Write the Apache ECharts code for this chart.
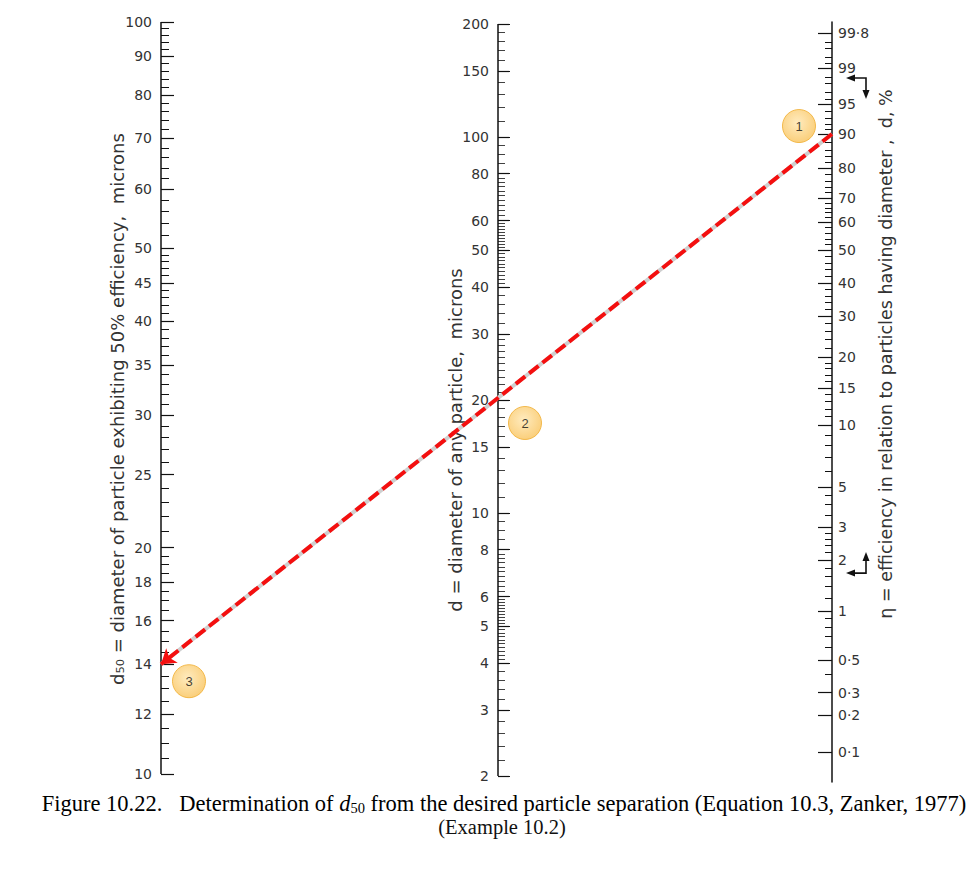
<!DOCTYPE html>
<html><head><meta charset="utf-8">
<script src="https://cdn.jsdelivr.net/npm/echarts@6/dist/echarts.min.js"></script>
<style>html,body{margin:0;padding:0;background:#fff}#c{width:976px;height:871px}</style>
</head><body><div id="c"></div>
<script>
// ---------- DATA ----------
// Left scale: d50, microns (log scale)
const d50Labels = [10,12,14,16,18,20,25,30,35,40,45,50,60,70,80,90,100];
const d50Minor = [10.5,11,11.5,12.5,13,13.5,14.5,15,15.5,16.5,17,17.5,18.5,19,19.5,
  21,22,23,24,26,27,28,29,31,32,33,34,36,37,38,39,41,42,43,44,46,47,48,49,
  52,54,56,58,62,64,66,68,72,74,76,78,82,84,86,88,92,94,96,98];
// Middle scale: d, microns (log scale)
const dLabels = [2,3,4,5,6,8,10,15,20,30,40,50,60,80,100,150,200];
const dMinor = [2.2,2.4,2.6,2.8,3.2,3.4,3.6,3.8,4.1,4.2,4.3,4.4,4.5,4.6,4.7,4.8,4.9,
  5.1,5.2,5.3,5.4,5.5,5.6,5.7,5.8,5.9,6.2,6.4,6.6,6.8,7,7.2,7.4,7.6,7.8,8.5,9,9.5,
  11,12,13,14,16,17,18,19,21,22,23,24,25,26,27,28,29,32,34,36,38,
  41,42,43,44,45,46,47,48,49,51,52,53,54,55,56,57,58,59,62,64,66,68,70,72,74,76,78,
  85,90,95,110,120,130,140,160,170,180,190];
const etaLabels = [0.1,0.2,0.3,0.5,1,2,3,5,10,15,20,30,40,50,60,70,80,90,95,99,99.8];
const etaRatio  = [0.213,0.239,0.256,0.283,0.329,0.385,0.426,0.482,0.583,0.654,0.719,0.816,0.903,1.0,1.090,1.174,1.287,1.429,1.568,1.751,1.950];
const etaMinor = [0.4,0.6,0.7,0.8,0.9,1.2,1.4,1.6,1.8,2.2,2.4,2.6,2.8,3.5,4,4.5,6,7,8,9,
  11,12,13,14,16,17,18,19,22,24,26,28,32,34,36,38,42,44,46,48,52,54,56,58,
  62,64,66,68,72,74,76,78,82,84,86,88,91,92,93,94,96,97,98,98.5,99.2,99.4,99.6,99.7];
// Worked example
const etaSelected = 90;   // step 1
const dSelected = 20;     // step 2
const badgeTexts = ['1','2','3'];

// ---------- LAYOUT ----------
const LEFT_X = 161, MID_X = 498, RIGHT_X = 832;
const GRID_TOP = 22, GRID_H = 760;
const L_MAX = 2, L_MIN = L_MAX - GRID_H / 752;
const M_MAX = Math.log10(200) + 2 / 376, M_MIN = M_MAX - GRID_H / 376;
const R_MAX = (250 - GRID_TOP) / 748, R_MIN = R_MAX - GRID_H / 748;
const MID_FRAC = (MID_X - LEFT_X) / (RIGHT_X - LEFT_X);
const TXT = '#333', AX = '#111';
const FONT = 'DejaVu Sans';

const lg = Math.log10;
const logit = p => Math.log10(p / (100 - p));
const etaR = etaLabels.map((e, i) => lg(etaRatio[i]));
function etaToR(e) {
  for (let i = 0; i < etaLabels.length - 1; i++) {
    const a = etaLabels[i], b = etaLabels[i + 1];
    if (e >= a && e <= b) {
      const t = (logit(e) - logit(a)) / (logit(b) - logit(a));
      return etaR[i] + t * (etaR[i + 1] - etaR[i]);
    }
  }
  return NaN;
}
const rToLeft = r => L_MIN + (r - R_MIN) / (R_MAX - R_MIN) * (L_MAX - L_MIN);

// result of the example: d50 = d / (d/d50 at eta)
const ratioSel = Math.pow(10, etaToR(etaSelected));
const d50Result = dSelected / ratioSel;

function yAx(min, max, pos, offset, ticks, len, labels, fmt, margin, showLine, tw) {
  return {
    type: 'value', min, max, position: pos, offset,
    axisLine: { show: !!showLine, lineStyle: { color: AX, width: 1.5 } },
    splitLine: { show: false },
    axisTick: { show: true, inside: true, length: len, customValues: ticks,
      lineStyle: { color: AX, width: tw || 1.2 } },
    axisLabel: labels ? { show: true, customValues: labels, formatter: fmt, margin,
      color: TXT, fontSize: 14, fontFamily: FONT } : { show: false }
  };
}
const fmtLog = v => String(Math.round(Math.pow(10, v)));
const fmtEta = v => {
  const i = etaR.findIndex(r => Math.abs(r - v) < 1e-9);
  return i < 0 ? '' : String(etaLabels[i]).replace('.', '·');
};

const badgeStyle = {
  color: { type: 'radial', x: 0.45, y: 0.4, r: 0.6,
    colorStops: [{ offset: 0, color: '#FFE6AE' }, { offset: 1, color: '#F9C35B' }] },
  borderColor: '#F0AE30', borderWidth: 1
};
function badge(yi, pt, off, txt) {
  return { type: 'scatter', xAxisIndex: 0, yAxisIndex: yi, data: [pt], symbol: 'circle',
    symbolSize: 33, symbolOffset: off, clip: false, z: 10, itemStyle: badgeStyle,
    label: { show: true, position: 'inside', formatter: txt, color: '#111', fontSize: 13,
      fontFamily: 'Liberation Sans' }, silent: true };
}

const leftEnd = [0, lg(d50Result)];
const rightEnd = [1, rToLeft(etaToR(etaSelected))];

const chart = echarts.init(document.getElementById('c'), null, { renderer: 'svg' });
chart.setOption({
  backgroundColor: '#fff',
  animation: false,
  grid: { left: LEFT_X, top: GRID_TOP, width: RIGHT_X - LEFT_X, height: GRID_H },
  xAxis: { type: 'value', min: 0, max: 1, show: false },
  yAxis: [
    yAx(L_MIN, L_MAX, 'left', 0, d50Labels.map(lg), 13, d50Labels.map(lg), fmtLog, 9),
    yAx(L_MIN, L_MAX, 'left', 0, d50Minor.map(lg), 8, null, null, 0, false, 1),
    yAx(M_MIN, M_MAX, 'left', -(MID_X - LEFT_X), dLabels.map(lg), 12, dLabels.map(lg), fmtLog, 9),
    yAx(M_MIN, M_MAX, 'left', -(MID_X - LEFT_X), dMinor.map(lg), 7, null, null, 0, false, 0.8),
    yAx(R_MIN, R_MAX, 'right', 0, etaR, 14, etaR, fmtEta, 6, true),
    yAx(R_MIN, R_MAX, 'right', 0, etaMinor.map(etaToR), 7, null, null, 0, false, 1)
  ],
  series: [
    // axis spines, from first to last tick
    { type: 'line', xAxisIndex: 0, yAxisIndex: 0, clip: false, symbol: 'none', silent: true,
      data: [[0, lg(d50Labels[0])], [0, lg(d50Labels[d50Labels.length - 1])]],
      lineStyle: { color: AX, width: 1.5 } },
    { type: 'line', xAxisIndex: 0, yAxisIndex: 2, clip: false, symbol: 'none', silent: true,
      data: [[MID_FRAC, lg(dLabels[0])], [MID_FRAC, lg(dLabels[dLabels.length - 1])]],
      lineStyle: { color: AX, width: 1.5 } },
    // construction line: grey base + red dashes with arrow
    { type: 'lines', coordinateSystem: 'cartesian2d', xAxisIndex: 0, yAxisIndex: 0, clip: false,
      silent: true, symbol: ['none', 'none'], z: 5,
      data: [{ coords: [rightEnd, leftEnd] }],
      lineStyle: { color: '#cfcfcf', width: 4, opacity: 1, curveness: 0 } },
    { type: 'lines', coordinateSystem: 'cartesian2d', xAxisIndex: 0, yAxisIndex: 0, clip: false,
      silent: true, symbol: ['none', 'arrow'], symbolSize: [0, 14], z: 6,
      data: [{ coords: [rightEnd, leftEnd] }],
      lineStyle: { color: '#f40f0f', width: 4, opacity: 1, type: [12, 5], curveness: 0 } },
    badge(4, [1, etaToR(etaSelected)], [-33, -8], badgeTexts[0]),
    badge(2, [MID_FRAC, lg(dSelected)], [27, 23], badgeTexts[1]),
    badge(0, leftEnd, [28, 17], badgeTexts[2])
  ]
});

// ---------- annotations ----------
function bentArrow(y0, dir) { // dir: +1 down, -1 up
  const xl = 848, xr = 866, len = 19;
  const y1 = y0 + dir * len;
  return [
    { type: 'polyline', shape: { points: [[xl + 4, y0], [xr, y0], [xr, y1 - dir * 4]] },
      style: { stroke: '#111', lineWidth: 1.6, fill: null } },
    { type: 'polygon', shape: { points: [[xl - 2, y0], [xl + 7, y0 - 3.5], [xl + 7, y0 + 3.5]] },
      style: { fill: '#111' } },
    { type: 'polygon', shape: { points: [[xr, y1 + dir * 2], [xr - 3.5, y1 - dir * 7], [xr + 3.5, y1 - dir * 7]] },
      style: { fill: '#111' } }
  ];
}
const y99 = chart.convertToPixel({ yAxisIndex: 4 }, etaToR(99));
const y2 = chart.convertToPixel({ yAxisIndex: 4 }, etaToR(2));
const nameStyle = (t, fs) => ({ text: t, fontSize: fs, fontFamily: FONT, fill: TXT, align: 'center', verticalAlign: 'middle' });
const CAP1 = 22.5, CAP2 = 20.5;
chart.setOption({
  graphic: [
    ...bentArrow(y99 + 10, 1),
    ...bentArrow(y2 + 13, -1),
    { type: 'text', x: 117, y: 409, rotation: Math.PI / 2,
      style: nameStyle('d₅₀ = diameter of particle exhibiting 50% efficiency,  microns', 18) },
    { type: 'text', x: 455, y: 440, rotation: Math.PI / 2,
      style: nameStyle('d = diameter of any particle,  microns', 18) },
    { type: 'text', x: 886, y: 354, rotation: Math.PI / 2,
      style: nameStyle('η = efficiency in relation to particles having diameter ,  d, %', 17.5) },
    { type: 'text', x: 504, y: 803,
      style: { text: '{n|Figure 10.22.   Determination of }{i|d}{s|50}{n| from the desired particle separation (Equation 10.3, Zanker, 1977)}',
        align: 'center', verticalAlign: 'middle',
        rich: {
          n: { fontSize: CAP1, fontFamily: 'Liberation Serif', color: '#111', lineHeight: 24, verticalAlign: 'middle' },
          i: { fontSize: CAP1, fontFamily: 'Liberation Serif', fontStyle: 'italic', color: '#111', lineHeight: 24, verticalAlign: 'middle' },
          s: { fontSize: 14.5, fontFamily: 'Liberation Serif', color: '#111', lineHeight: 14, verticalAlign: 'bottom' }
        } } },
    { type: 'text', x: 502, y: 827,
      style: { text: '(Example 10.2)', fontSize: CAP2, fontFamily: 'Liberation Serif', fill: '#111',
        align: 'center', verticalAlign: 'middle' } }
  ]
});
</script></body></html>
